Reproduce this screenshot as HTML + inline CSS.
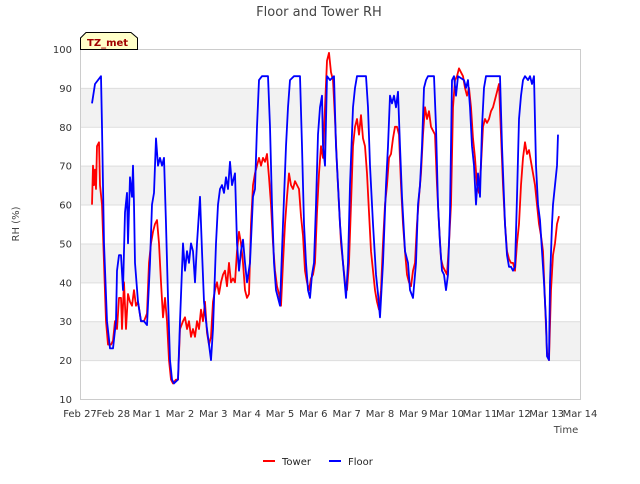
<!DOCTYPE html>
<html><head><meta charset="utf-8"><style>
body{margin:0;background:#fff;font-family:"DejaVu Sans",sans-serif}
svg text{font-family:"DejaVu Sans",sans-serif}
</style></head><body>
<svg id="c" width="640" height="480" xmlns="http://www.w3.org/2000/svg">
<text x="319" y="16" text-anchor="middle" font-size="13" fill="#444">Floor and Tower RH</text>
<text x="19" y="224" text-anchor="middle" font-size="10" fill="#444" transform="rotate(-90 19 224)">RH (%)</text>
<text x="566" y="433" text-anchor="middle" font-size="10" fill="#444">Time</text>
<g id="bands"></g><g id="grid"></g><g id="ticks"></g><g id="series"></g>
<rect x="80.5" y="49.5" width="500" height="350" fill="none" stroke="#ccc"/>
<g>
<path d="M80.5 49.5 V38 L86 32.5 H131 L137.5 38 V49.5 Z" fill="#ffffc8" stroke="#000"/>
<text x="87" y="46" font-size="10" font-weight="bold" fill="#a00000">TZ_met</text></g>
<g>
<line x1="263" y1="461" x2="275" y2="461" stroke="#f00" stroke-width="2"/>
<text x="282" y="465" font-size="10" fill="#222">Tower</text>
<line x1="329" y1="461" x2="341" y2="461" stroke="#00f" stroke-width="2"/>
<text x="348" y="465" font-size="10" fill="#222">Floor</text>
</g>
</svg>
<script>
const xTickLabels=["Feb 27","Feb 28","Mar 1","Mar 2","Mar 3","Mar 4","Mar 5","Mar 6","Mar 7","Mar 8","Mar 9","Mar 10","Mar 11","Mar 12","Mar 13","Mar 14"];
const yTicks=[10,20,30,40,50,60,70,80,90,100];
const floorTimes=[.36,.45,.63,.66,.72,.81,.90,.99,1.08,1.11,1.17,1.23,1.29,1.35,1.41,1.44,1.50,1.56,1.59,1.62,1.65,1.74,1.83,1.92,2.01,2.10,2.16,2.22,2.28,2.34,2.40,2.46,2.52,2.58,2.64,2.70,2.76,2.82,2.94,3.00,3.09,3.15,3.21,3.27,3.33,3.39,3.45,3.51,3.60,3.66,3.72,3.78,3.87,3.93,3.99,4.08,4.14,4.20,4.26,4.32,4.38,4.44,4.50,4.56,4.65,4.71,4.77,4.83,4.89,4.95,5.01,5.10,5.19,5.25,5.31,5.37,5.46,5.64,5.70,5.76,5.82,5.88,5.94,6.00,6.09,6.18,6.24,6.30,6.42,6.60,6.66,6.72,6.78,6.84,6.90,6.96,7.02,7.08,7.14,7.20,7.26,7.29,7.35,7.41,7.50,7.62,7.68,7.74,7.80,7.89,7.98,8.04,8.10,8.19,8.25,8.31,8.40,8.58,8.64,8.70,8.79,8.88,8.94,9.00,9.09,9.18,9.24,9.30,9.36,9.42,9.48,9.54,9.60,9.66,9.75,9.84,9.90,9.99,10.08,10.14,10.20,10.26,10.32,10.38,10.44,10.62,10.68,10.74,10.80,10.86,10.92,10.98,11.04,11.10,11.16,11.22,11.28,11.34,11.52,11.58,11.64,11.70,11.76,11.82,11.88,11.94,12.00,12.06,12.12,12.18,12.60,12.66,12.75,12.81,12.87,12.93,12.99,13.05,13.11,13.17,13.23,13.29,13.35,13.44,13.50,13.56,13.62,13.68,13.74,13.80,13.86,13.92,13.98,14.01,14.07,14.10,14.16,14.19,14.25,14.31,14.34];
const floorValues=[86,91,93,80,50,30,23,23,30,43,47,47,38,58,63,50,67,62,70,60,45,35,30,30,29,45,60,63,77,70,72,70,72,55,36,20,15,14,15,30,50,43,48,45,50,48,40,50,62,48,35,30,24,20,28,50,60,64,65,63,67,64,71,65,68,50,43,48,51,45,40,45,62,64,80,92,93,93,80,60,45,38,36,34,55,75,85,92,93,93,75,55,45,38,36,42,45,60,78,85,88,75,70,93,92,93,75,65,55,45,36,45,65,85,90,93,93,93,85,70,55,42,37,31,45,65,75,88,86,88,85,89,75,62,48,45,38,36,45,60,65,75,90,92,93,93,80,60,50,43,42,38,42,58,92,93,88,93,92,90,92,85,75,70,60,68,62,80,90,93,93,75,55,47,44,44,43,44,62,82,88,92,93,92,93,91,93,70,60,56,48,40,30,21,20,40,55,60,65,70,78];
const towerTimes=[.36,.39,.42,.45,.48,.51,.57,.60,.66,.72,.78,.84,.93,.99,1.05,1.11,1.17,1.23,1.26,1.32,1.38,1.44,1.50,1.56,1.62,1.68,1.74,1.83,1.92,2.01,2.07,2.13,2.19,2.25,2.31,2.37,2.43,2.49,2.55,2.61,2.67,2.73,2.79,2.88,2.94,3.00,3.09,3.15,3.21,3.27,3.33,3.39,3.45,3.51,3.57,3.63,3.69,3.75,3.81,3.87,3.93,3.99,4.05,4.11,4.17,4.23,4.29,4.35,4.41,4.47,4.53,4.59,4.65,4.71,4.77,4.83,4.89,4.95,5.01,5.07,5.13,5.19,5.25,5.31,5.37,5.43,5.49,5.55,5.61,5.67,5.73,5.79,5.85,5.91,5.97,6.03,6.09,6.15,6.21,6.27,6.33,6.39,6.45,6.51,6.57,6.63,6.69,6.75,6.81,6.87,6.93,6.99,7.05,7.11,7.17,7.23,7.29,7.35,7.41,7.47,7.53,7.59,7.65,7.71,7.77,7.83,7.89,7.95,8.01,8.07,8.13,8.19,8.25,8.31,8.37,8.43,8.49,8.55,8.61,8.67,8.73,8.79,8.85,8.91,8.97,9.03,9.09,9.15,9.21,9.27,9.33,9.39,9.45,9.51,9.57,9.63,9.69,9.75,9.81,9.87,9.93,9.99,10.05,10.11,10.17,10.23,10.29,10.35,10.41,10.47,10.53,10.59,10.65,10.71,10.77,10.83,10.89,10.95,11.01,11.07,11.13,11.19,11.25,11.31,11.37,11.43,11.49,11.55,11.61,11.67,11.73,11.79,11.85,11.91,11.97,12.03,12.09,12.15,12.21,12.27,12.33,12.39,12.45,12.51,12.57,12.63,12.69,12.75,12.81,12.87,12.93,12.99,13.05,13.11,13.17,13.23,13.29,13.35,13.41,13.47,13.53,13.59,13.65,13.71,13.77,13.83,13.89,13.95,14.01,14.07,14.13,14.19,14.25,14.31,14.37];
const towerValues=[60,70,65,69,64,75,76,65,60,45,30,24,24,25,30,28,36,36,28,40,28,37,35,34,38,34,35,30,30,32,45,50,53,55,56,50,40,31,36,30,20,15,14,15,15,28,30,31,28,30,26,28,26,30,28,33,30,35,27,24,26,35,38,40,37,40,42,43,39,45,40,41,40,48,53,50,45,38,36,37,55,65,68,70,72,70,72,71,73,67,60,50,43,39,37,34,45,55,62,68,65,64,66,65,64,57,52,43,40,38,41,42,45,58,68,75,72,85,97,99,94,92,82,70,60,50,45,40,38,45,60,75,80,82,78,83,77,75,68,58,48,43,38,35,33,38,50,60,65,72,73,77,80,80,78,65,55,48,42,40,39,43,45,55,62,68,78,85,82,84,80,79,78,65,55,46,44,43,42,50,60,85,92,93,95,94,93,90,88,90,85,77,72,65,63,70,80,82,81,82,84,85,87,89,91,78,65,55,48,46,45,45,43,50,55,65,72,76,73,74,71,68,65,60,55,52,48,35,22,20,38,47,50,55,57];

const NS="http://www.w3.org/2000/svg";
const X0=80,X1=580,Y0=399,Y1=49;
function xs(d){return X0+(X1-X0)*d/15;}
function ys(v){return Y0-(Y0-Y1)*(v-10)/90;}
function mk(tag,attrs,parent){const e=document.createElementNS(NS,tag);for(const k in attrs)e.setAttribute(k,attrs[k]);parent.appendChild(e);return e;}
const bands=document.getElementById('bands'),grid=document.getElementById('grid'),ticks=document.getElementById('ticks'),series=document.getElementById('series');
mk('rect',{x:X0,y:Y1,width:X1-X0,height:Y0-Y1,fill:'#fff'},bands);
for(let i=0;i<yTicks.length-1;i++){
  if(i%2===1){
    const b=mk('rect',{x:X0,y:ys(yTicks[i+1]),width:X1-X0,height:ys(yTicks[i])-ys(yTicks[i+1]),fill:'#f2f2f2'},bands);
    
    
  }
}
yTicks.forEach(v=>{
  const l=mk('line',{x1:X0,x2:X1,y1:ys(v)+.5,y2:ys(v)+.5,stroke:'#ddd'},grid);
  
  
  const t=mk('text',{x:72,y:ys(v)+4,'text-anchor':'end','font-size':10,fill:'#333'},ticks);
  t.textContent=v;
  
  
});
xTickLabels.forEach((s,i)=>{
  const t=mk('text',{x:xs(i),y:417,'text-anchor':'middle','font-size':10,fill:'#333'},ticks);
  t.textContent=s;
  
  
});
function line(times,vals,color,name){
  const d=times.map((t,i)=>(i?'L':'M')+xs(t).toFixed(1)+' '+ys(vals[i]).toFixed(1)).join(' ');
  const p=mk('path',{d:d,fill:'none',stroke:color,'stroke-width':1.8,'stroke-linejoin':'round'},series);
  
  
}
line(towerTimes,towerValues,'#f00','tower-line');
line(floorTimes,floorValues,'#00f','floor-line');
</script>
</body></html>
